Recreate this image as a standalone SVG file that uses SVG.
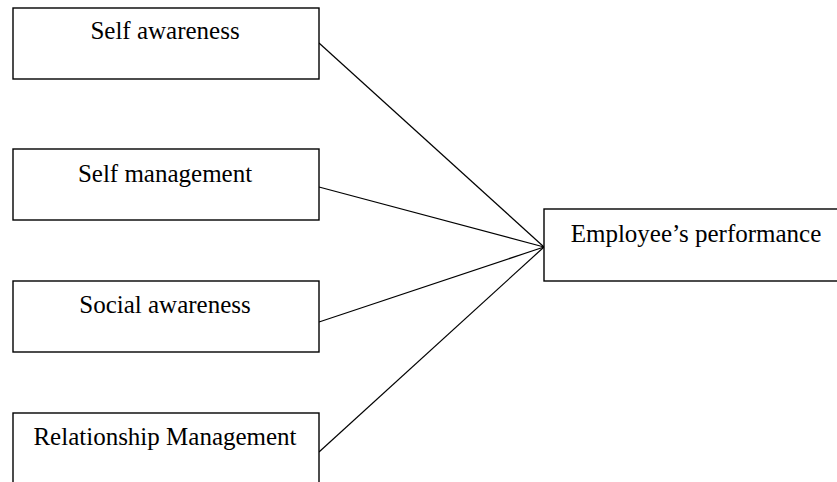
<svg xmlns="http://www.w3.org/2000/svg" width="837" height="482" viewBox="0 0 837 482">
<style>
.box{fill:#fff;stroke:#000;stroke-width:1.4}
.lbl{font-family:"Liberation Serif","Times New Roman",serif;font-size:25px;fill:#000;text-anchor:middle}
.conn line{stroke:#000;stroke-width:1.2}
</style>
<rect width="837" height="482" fill="#fff"/>
<g id="connectors" class="conn">
<line x1="319" y1="43" x2="544" y2="247"/>
<line x1="319" y1="187" x2="544" y2="247"/>
<line x1="319" y1="322" x2="544" y2="247"/>
<line x1="319" y1="452" x2="544" y2="247"/>
</g>
<g id="self-awareness">
<rect class="box" x="13" y="8" width="306" height="71"/>
<text class="lbl" x="165" y="39">Self awareness</text>
</g>
<g id="self-management">
<rect class="box" x="13" y="149" width="306" height="71"/>
<text class="lbl" x="165" y="182">Self management</text>
</g>
<g id="social-awareness">
<rect class="box" x="13" y="281" width="306" height="71"/>
<text class="lbl" x="165" y="313">Social awareness</text>
</g>
<g id="relationship-management">
<rect class="box" x="13" y="413" width="306" height="75"/>
<text class="lbl" x="165" y="445">Relationship Management</text>
</g>
<g id="employee-performance">
<rect class="box" x="544" y="209" width="306" height="72"/>
<text class="lbl" x="696" y="242">Employee’s performance</text>
</g>
</svg>
